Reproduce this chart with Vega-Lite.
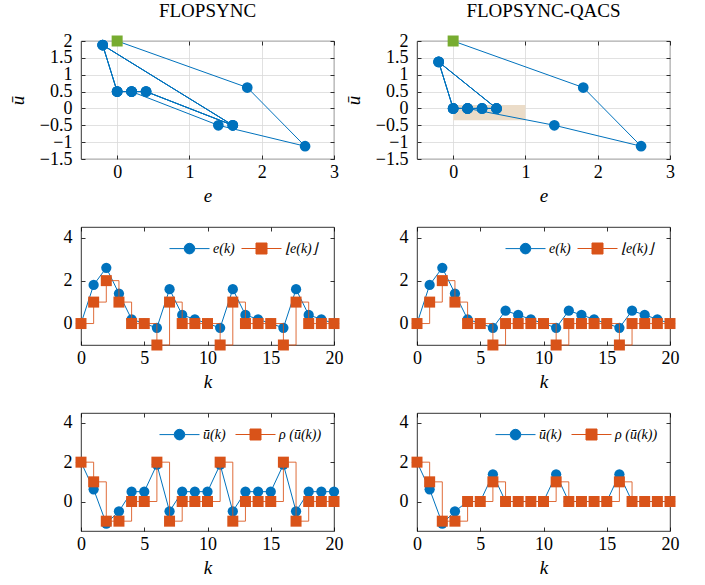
{
  "$schema": "https://vega.github.io/schema/vega-lite/v6.json",
  "autosize": {"type": "pad"},
  "padding": {"left": 7, "top": 1, "right": 5, "bottom": 5},
  "background": "white",
  "config": {
    "font": "Liberation Serif",
    "view": {"stroke": "#000", "strokeWidth": 0.8},
    "axis": {
      "labelFont": "Liberation Serif", "labelFontSize": 18, "labelColor": "#000", "labelOverlap": false, "labelFlush": false,
      "titleFont": "Liberation Serif", "titleFontSize": 19, "titleFontStyle": "italic", "titleFontWeight": "normal", "titleColor": "#000",
      "domain": false, "tickColor": "#000", "tickSize": -4, "tickWidth": 0.8,
      "grid": false, "gridColor": "#d9d9d9", "gridWidth": 0.8, "gridOpacity": 1
    },
    "axisX": {"labelPadding": 8, "titlePadding": 5},
    "axisY": {"labelPadding": 13, "titlePadding": 12},
    "title": {"font": "Liberation Serif", "fontSize": 19, "fontWeight": "normal", "color": "#000", "anchor": "middle", "offset": 11}
  },
  "datasets": {
    "d": [
      {"p": "A", "k": 0, "e": 0, "fe": 0, "u": 2, "ru": 2},
      {"p": "A", "k": 1, "e": 1.8, "fe": 1, "u": 0.62, "ru": 1},
      {"p": "A", "k": 2, "e": 2.6, "fe": 2, "u": -1.12, "ru": -1},
      {"p": "A", "k": 3, "e": 1.4, "fe": 1, "u": -0.5, "ru": -1},
      {"p": "A", "k": 4, "e": 0.2, "fe": 0, "u": 0.5, "ru": 0},
      {"p": "A", "k": 5, "e": 0, "fe": 0, "u": 0.5, "ru": 0},
      {"p": "A", "k": 6, "e": -0.2, "fe": -1, "u": 1.88, "ru": 2},
      {"p": "A", "k": 7, "e": 1.6, "fe": 1, "u": -0.5, "ru": -1},
      {"p": "A", "k": 8, "e": 0.4, "fe": 0, "u": 0.5, "ru": 0},
      {"p": "A", "k": 9, "e": 0.2, "fe": 0, "u": 0.5, "ru": 0},
      {"p": "A", "k": 10, "e": 0, "fe": 0, "u": 0.5, "ru": 0},
      {"p": "A", "k": 11, "e": -0.2, "fe": -1, "u": 1.88, "ru": 2},
      {"p": "A", "k": 12, "e": 1.6, "fe": 1, "u": -0.5, "ru": -1},
      {"p": "A", "k": 13, "e": 0.4, "fe": 0, "u": 0.5, "ru": 0},
      {"p": "A", "k": 14, "e": 0.2, "fe": 0, "u": 0.5, "ru": 0},
      {"p": "A", "k": 15, "e": 0, "fe": 0, "u": 0.5, "ru": 0},
      {"p": "A", "k": 16, "e": -0.2, "fe": -1, "u": 1.88, "ru": 2},
      {"p": "A", "k": 17, "e": 1.6, "fe": 1, "u": -0.5, "ru": -1},
      {"p": "A", "k": 18, "e": 0.4, "fe": 0, "u": 0.5, "ru": 0},
      {"p": "A", "k": 19, "e": 0.2, "fe": 0, "u": 0.5, "ru": 0},
      {"p": "A", "k": 20, "e": 0, "fe": 0, "u": 0.5, "ru": 0},
      {"p": "B", "k": 0, "e": 0, "fe": 0, "u": 2, "ru": 2},
      {"p": "B", "k": 1, "e": 1.8, "fe": 1, "u": 0.62, "ru": 1},
      {"p": "B", "k": 2, "e": 2.6, "fe": 2, "u": -1.12, "ru": -1},
      {"p": "B", "k": 3, "e": 1.4, "fe": 1, "u": -0.5, "ru": -1},
      {"p": "B", "k": 4, "e": 0.2, "fe": 0, "u": 0, "ru": 0},
      {"p": "B", "k": 5, "e": 0, "fe": 0, "u": 0, "ru": 0},
      {"p": "B", "k": 6, "e": -0.2, "fe": -1, "u": 1.38, "ru": 1},
      {"p": "B", "k": 7, "e": 0.6, "fe": 0, "u": 0, "ru": 0},
      {"p": "B", "k": 8, "e": 0.4, "fe": 0, "u": 0, "ru": 0},
      {"p": "B", "k": 9, "e": 0.2, "fe": 0, "u": 0, "ru": 0},
      {"p": "B", "k": 10, "e": 0, "fe": 0, "u": 0, "ru": 0},
      {"p": "B", "k": 11, "e": -0.2, "fe": -1, "u": 1.38, "ru": 1},
      {"p": "B", "k": 12, "e": 0.6, "fe": 0, "u": 0, "ru": 0},
      {"p": "B", "k": 13, "e": 0.4, "fe": 0, "u": 0, "ru": 0},
      {"p": "B", "k": 14, "e": 0.2, "fe": 0, "u": 0, "ru": 0},
      {"p": "B", "k": 15, "e": 0, "fe": 0, "u": 0, "ru": 0},
      {"p": "B", "k": 16, "e": -0.2, "fe": -1, "u": 1.38, "ru": 1},
      {"p": "B", "k": 17, "e": 0.6, "fe": 0, "u": 0, "ru": 0},
      {"p": "B", "k": 18, "e": 0.4, "fe": 0, "u": 0, "ru": 0},
      {"p": "B", "k": 19, "e": 0.2, "fe": 0, "u": 0, "ru": 0},
      {"p": "B", "k": 20, "e": 0, "fe": 0, "u": 0, "ru": 0}
    ],
    "r": [{"x0": 0, "x1": 1, "y0": -0.35, "y1": 0.1}]
  },
  "columns": 2,
  "bounds": "flush",
  "spacing": {"row": 68, "column": 83},
  "resolve": {"scale": {"color": "independent"}, "legend": {"color": "independent"}},
  "concat": [
    {
      "width": 253, "height": 118,
      "title": {"text": "FLOPSYNC"},
      "layer": [
        {
          "data": {"name": "d"}, "transform": [{"filter": "datum.p == 'A'"}],
          "mark": {"type": "line", "color": "#0072BD", "strokeWidth": 1, "clip": false},
          "encoding": {
            "x": {"field": "e", "type": "quantitative", "scale": {"domain": [-0.5, 3], "nice": false, "zero": false}, "axis": {"orient": "bottom", "values": [0, 1, 2, 3], "grid": true, "title": "e"}},
            "y": {"field": "u", "type": "quantitative", "scale": {"domain": [-1.5, 2], "nice": false, "zero": false}, "axis": {"orient": "left", "values": [-1.5, -1, -0.5, 0, 0.5, 1, 1.5, 2], "format": "~g", "grid": true, "title": "ū"}},
            "order": {"field": "k", "type": "quantitative"}
          }
        },
        {
          "data": {"name": "d"}, "transform": [{"filter": "datum.p == 'A' && datum.k > 0"}],
          "mark": {"type": "point", "shape": "circle", "filled": true, "size": 115, "opacity": 1, "color": "#0072BD", "clip": false},
          "encoding": {
            "x": {"field": "e", "type": "quantitative", "scale": {"domain": [-0.5, 3], "nice": false, "zero": false}, "axis": null},
            "y": {"field": "u", "type": "quantitative", "scale": {"domain": [-1.5, 2], "nice": false, "zero": false}, "axis": null}
          }
        },
        {
          "data": {"name": "d"}, "transform": [{"filter": "datum.p == 'A' && datum.k == 0"}],
          "mark": {"type": "point", "shape": "square", "filled": true, "size": 121, "opacity": 1, "color": "#77AC30", "clip": false},
          "encoding": {
            "x": {"field": "e", "type": "quantitative", "scale": {"domain": [-0.5, 3], "nice": false, "zero": false}, "axis": {"orient": "top", "values": [0, 1, 2, 3], "labels": false, "title": null}},
            "y": {"field": "u", "type": "quantitative", "scale": {"domain": [-1.5, 2], "nice": false, "zero": false}, "axis": {"orient": "right", "values": [-1.5, -1, -0.5, 0, 0.5, 1, 1.5, 2], "labels": false, "title": null}}
          }
        }
      ],
      "resolve": {"axis": {"x": "independent", "y": "independent"}}
    },
    {
      "width": 253, "height": 118,
      "title": {"text": "FLOPSYNC-QACS"},
      "layer": [
        {
          "data": {"name": "r"},
          "mark": {"type": "rect", "color": "#EBDCC8", "opacity": 1},
          "encoding": {
            "x": {"field": "x0", "type": "quantitative", "scale": {"domain": [-0.5, 3], "nice": false, "zero": false}, "axis": null},
            "x2": {"field": "x1"},
            "y": {"field": "y0", "type": "quantitative", "scale": {"domain": [-1.5, 2], "nice": false, "zero": false}, "axis": null},
            "y2": {"field": "y1"}
          }
        },
        {
          "data": {"name": "d"}, "transform": [{"filter": "datum.p == 'B'"}],
          "mark": {"type": "line", "color": "#0072BD", "strokeWidth": 1, "clip": false},
          "encoding": {
            "x": {"field": "e", "type": "quantitative", "scale": {"domain": [-0.5, 3], "nice": false, "zero": false}, "axis": {"orient": "bottom", "values": [0, 1, 2, 3], "grid": true, "title": "e"}},
            "y": {"field": "u", "type": "quantitative", "scale": {"domain": [-1.5, 2], "nice": false, "zero": false}, "axis": {"orient": "left", "values": [-1.5, -1, -0.5, 0, 0.5, 1, 1.5, 2], "format": "~g", "grid": true, "title": "ū"}},
            "order": {"field": "k", "type": "quantitative"}
          }
        },
        {
          "data": {"name": "d"}, "transform": [{"filter": "datum.p == 'B' && datum.k > 0"}],
          "mark": {"type": "point", "shape": "circle", "filled": true, "size": 115, "opacity": 1, "color": "#0072BD", "clip": false},
          "encoding": {
            "x": {"field": "e", "type": "quantitative", "scale": {"domain": [-0.5, 3], "nice": false, "zero": false}, "axis": null},
            "y": {"field": "u", "type": "quantitative", "scale": {"domain": [-1.5, 2], "nice": false, "zero": false}, "axis": null}
          }
        },
        {
          "data": {"name": "d"}, "transform": [{"filter": "datum.p == 'B' && datum.k == 0"}],
          "mark": {"type": "point", "shape": "square", "filled": true, "size": 121, "opacity": 1, "color": "#77AC30", "clip": false},
          "encoding": {
            "x": {"field": "e", "type": "quantitative", "scale": {"domain": [-0.5, 3], "nice": false, "zero": false}, "axis": {"orient": "top", "values": [0, 1, 2, 3], "labels": false, "title": null}},
            "y": {"field": "u", "type": "quantitative", "scale": {"domain": [-1.5, 2], "nice": false, "zero": false}, "axis": {"orient": "right", "values": [-1.5, -1, -0.5, 0, 0.5, 1, 1.5, 2], "labels": false, "title": null}}
          }
        }
      ],
      "resolve": {"axis": {"x": "independent", "y": "independent"}}
    },
    {
      "width": 253, "height": 118,
      "layer": [
        {
          "data": {"name": "d"}, "transform": [{"filter": "datum.p == 'A'"}, {"fold": ["e", "fe"], "as": ["s", "v"]}, {"filter": "datum.s == 'e'"}],
          "mark": {"type": "line", "strokeWidth": 1, "clip": false},
          "encoding": {
            "x": {"field": "k", "type": "quantitative", "scale": {"domain": [0, 20], "nice": false}, "axis": {"orient": "bottom", "values": [0, 5, 10, 15, 20], "title": "k"}},
            "y": {"field": "v", "type": "quantitative", "scale": {"domain": [-1, 4.5], "nice": false}, "axis": {"orient": "left", "values": [0, 2, 4], "title": null}},
            "color": {"field": "s", "type": "nominal", "scale": {"domain": ["e", "fe"], "range": ["#0072BD", "#D95319"]},
              "legend": {"orient": "none", "legendX": 98, "legendY": 11, "direction": "horizontal", "title": null, "padding": 0,
                "labelExpr": "datum.value == 'e' ? 'e(k)' : '⌊e(k)⌋'", "labelFont": "Liberation Serif", "labelFontSize": 14, "labelFontStyle": "italic", "labelColor": "#000",
                "symbolSize": 400, "labelOffset": 13, "columnPadding": 4, "symbolStrokeWidth": 1,
                "encode": {"symbols": {"update": {
                  "shape": {"signal": "datum.value == 'e' ? 'M-2,0L-0.53,0M0.53,0L2,0M0.53,0A0.53,0.53,0,1,1,-0.53,0A0.53,0.53,0,1,1,0.53,0Z' : 'M-2,0L-0.55,0M0.55,0L2,0M-0.55,-0.55L0.55,-0.55L0.55,0.55L-0.55,0.55Z'"},
                  "fill": {"signal": "datum.value == 'e' ? '#0072BD' : '#D95319'"},
                  "stroke": {"signal": "datum.value == 'e' ? '#0072BD' : '#D95319'"},
                  "opacity": {"value": 1}, "fillOpacity": {"value": 1}, "strokeOpacity": {"value": 1}
                }}}}
            }
          }
        },
        {
          "data": {"name": "d"}, "transform": [{"filter": "datum.p == 'A'"}, {"fold": ["e", "fe"], "as": ["s", "v"]}, {"filter": "datum.s == 'e'"}],
          "mark": {"type": "point", "shape": "circle", "filled": true, "size": 105, "opacity": 1, "clip": false},
          "encoding": {
            "x": {"field": "k", "type": "quantitative", "scale": {"domain": [0, 20], "nice": false}, "axis": null},
            "y": {"field": "v", "type": "quantitative", "scale": {"domain": [-1, 4.5], "nice": false}, "axis": null},
            "color": {"field": "s", "type": "nominal", "scale": {"domain": ["e", "fe"], "range": ["#0072BD", "#D95319"]}}
          }
        },
        {
          "data": {"name": "d"}, "transform": [{"filter": "datum.p == 'A'"}, {"fold": ["e", "fe"], "as": ["s", "v"]}, {"filter": "datum.s == 'fe'"}],
          "mark": {"type": "line", "interpolate": "step-after", "strokeWidth": 1, "opacity": 0.85, "clip": false},
          "encoding": {
            "x": {"field": "k", "type": "quantitative", "scale": {"domain": [0, 20], "nice": false}, "axis": null},
            "y": {"field": "v", "type": "quantitative", "scale": {"domain": [-1, 4.5], "nice": false}, "axis": null},
            "color": {"field": "s", "type": "nominal", "scale": {"domain": ["e", "fe"], "range": ["#0072BD", "#D95319"]}}
          }
        },
        {
          "data": {"name": "d"}, "transform": [{"filter": "datum.p == 'A'"}, {"fold": ["e", "fe"], "as": ["s", "v"]}, {"filter": "datum.s == 'fe'"}],
          "mark": {"type": "point", "shape": "square", "filled": true, "size": 121, "opacity": 1, "clip": false},
          "encoding": {
            "x": {"field": "k", "type": "quantitative", "scale": {"domain": [0, 20], "nice": false}, "axis": {"orient": "top", "values": [0, 5, 10, 15, 20], "labels": false, "title": null}},
            "y": {"field": "v", "type": "quantitative", "scale": {"domain": [-1, 4.5], "nice": false}, "axis": {"orient": "right", "values": [0, 2, 4], "labels": false, "title": null}},
            "color": {"field": "s", "type": "nominal", "scale": {"domain": ["e", "fe"], "range": ["#0072BD", "#D95319"]}}
          }
        }
      ],
      "resolve": {"axis": {"x": "independent", "y": "independent"}}
    },
    {
      "width": 253, "height": 118,
      "layer": [
        {
          "data": {"name": "d"}, "transform": [{"filter": "datum.p == 'B'"}, {"fold": ["e", "fe"], "as": ["s", "v"]}, {"filter": "datum.s == 'e'"}],
          "mark": {"type": "line", "strokeWidth": 1, "clip": false},
          "encoding": {
            "x": {"field": "k", "type": "quantitative", "scale": {"domain": [0, 20], "nice": false}, "axis": {"orient": "bottom", "values": [0, 5, 10, 15, 20], "title": "k"}},
            "y": {"field": "v", "type": "quantitative", "scale": {"domain": [-1, 4.5], "nice": false}, "axis": {"orient": "left", "values": [0, 2, 4], "title": null}},
            "color": {"field": "s", "type": "nominal", "scale": {"domain": ["e", "fe"], "range": ["#0072BD", "#D95319"]},
              "legend": {"orient": "none", "legendX": 98, "legendY": 11, "direction": "horizontal", "title": null, "padding": 0,
                "labelExpr": "datum.value == 'e' ? 'e(k)' : '⌊e(k)⌋'", "labelFont": "Liberation Serif", "labelFontSize": 14, "labelFontStyle": "italic", "labelColor": "#000",
                "symbolSize": 400, "labelOffset": 13, "columnPadding": 4, "symbolStrokeWidth": 1,
                "encode": {"symbols": {"update": {
                  "shape": {"signal": "datum.value == 'e' ? 'M-2,0L-0.53,0M0.53,0L2,0M0.53,0A0.53,0.53,0,1,1,-0.53,0A0.53,0.53,0,1,1,0.53,0Z' : 'M-2,0L-0.55,0M0.55,0L2,0M-0.55,-0.55L0.55,-0.55L0.55,0.55L-0.55,0.55Z'"},
                  "fill": {"signal": "datum.value == 'e' ? '#0072BD' : '#D95319'"},
                  "stroke": {"signal": "datum.value == 'e' ? '#0072BD' : '#D95319'"},
                  "opacity": {"value": 1}, "fillOpacity": {"value": 1}, "strokeOpacity": {"value": 1}
                }}}}
            }
          }
        },
        {
          "data": {"name": "d"}, "transform": [{"filter": "datum.p == 'B'"}, {"fold": ["e", "fe"], "as": ["s", "v"]}, {"filter": "datum.s == 'e'"}],
          "mark": {"type": "point", "shape": "circle", "filled": true, "size": 105, "opacity": 1, "clip": false},
          "encoding": {
            "x": {"field": "k", "type": "quantitative", "scale": {"domain": [0, 20], "nice": false}, "axis": null},
            "y": {"field": "v", "type": "quantitative", "scale": {"domain": [-1, 4.5], "nice": false}, "axis": null},
            "color": {"field": "s", "type": "nominal", "scale": {"domain": ["e", "fe"], "range": ["#0072BD", "#D95319"]}}
          }
        },
        {
          "data": {"name": "d"}, "transform": [{"filter": "datum.p == 'B'"}, {"fold": ["e", "fe"], "as": ["s", "v"]}, {"filter": "datum.s == 'fe'"}],
          "mark": {"type": "line", "interpolate": "step-after", "strokeWidth": 1, "opacity": 0.85, "clip": false},
          "encoding": {
            "x": {"field": "k", "type": "quantitative", "scale": {"domain": [0, 20], "nice": false}, "axis": null},
            "y": {"field": "v", "type": "quantitative", "scale": {"domain": [-1, 4.5], "nice": false}, "axis": null},
            "color": {"field": "s", "type": "nominal", "scale": {"domain": ["e", "fe"], "range": ["#0072BD", "#D95319"]}}
          }
        },
        {
          "data": {"name": "d"}, "transform": [{"filter": "datum.p == 'B'"}, {"fold": ["e", "fe"], "as": ["s", "v"]}, {"filter": "datum.s == 'fe'"}],
          "mark": {"type": "point", "shape": "square", "filled": true, "size": 121, "opacity": 1, "clip": false},
          "encoding": {
            "x": {"field": "k", "type": "quantitative", "scale": {"domain": [0, 20], "nice": false}, "axis": {"orient": "top", "values": [0, 5, 10, 15, 20], "labels": false, "title": null}},
            "y": {"field": "v", "type": "quantitative", "scale": {"domain": [-1, 4.5], "nice": false}, "axis": {"orient": "right", "values": [0, 2, 4], "labels": false, "title": null}},
            "color": {"field": "s", "type": "nominal", "scale": {"domain": ["e", "fe"], "range": ["#0072BD", "#D95319"]}}
          }
        }
      ],
      "resolve": {"axis": {"x": "independent", "y": "independent"}}
    },
    {
      "width": 253, "height": 118,
      "layer": [
        {
          "data": {"name": "d"}, "transform": [{"filter": "datum.p == 'A'"}, {"fold": ["u", "ru"], "as": ["s", "v"]}, {"filter": "datum.s == 'u'"}],
          "mark": {"type": "line", "strokeWidth": 1, "clip": false},
          "encoding": {
            "x": {"field": "k", "type": "quantitative", "scale": {"domain": [0, 20], "nice": false}, "axis": {"orient": "bottom", "values": [0, 5, 10, 15, 20], "title": "k"}},
            "y": {"field": "v", "type": "quantitative", "scale": {"domain": [-1.5, 4.5], "nice": false}, "axis": {"orient": "left", "values": [0, 2, 4], "title": null}},
            "color": {"field": "s", "type": "nominal", "scale": {"domain": ["u", "ru"], "range": ["#0072BD", "#D95319"]},
              "legend": {"orient": "none", "legendX": 88, "legendY": 11, "direction": "horizontal", "title": null, "padding": 0,
                "labelExpr": "datum.value == 'u' ? 'ū(k)' : 'ρ (ū(k))'", "labelFont": "Liberation Serif", "labelFontSize": 14, "labelFontStyle": "italic", "labelColor": "#000",
                "symbolSize": 400, "labelOffset": 13, "columnPadding": 7, "symbolStrokeWidth": 1,
                "encode": {"symbols": {"update": {
                  "shape": {"signal": "datum.value == 'u' ? 'M-2,0L-0.53,0M0.53,0L2,0M0.53,0A0.53,0.53,0,1,1,-0.53,0A0.53,0.53,0,1,1,0.53,0Z' : 'M-2,0L-0.55,0M0.55,0L2,0M-0.55,-0.55L0.55,-0.55L0.55,0.55L-0.55,0.55Z'"},
                  "fill": {"signal": "datum.value == 'u' ? '#0072BD' : '#D95319'"},
                  "stroke": {"signal": "datum.value == 'u' ? '#0072BD' : '#D95319'"},
                  "opacity": {"value": 1}, "fillOpacity": {"value": 1}, "strokeOpacity": {"value": 1}
                }}}}
            }
          }
        },
        {
          "data": {"name": "d"}, "transform": [{"filter": "datum.p == 'A'"}, {"fold": ["u", "ru"], "as": ["s", "v"]}, {"filter": "datum.s == 'u'"}],
          "mark": {"type": "point", "shape": "circle", "filled": true, "size": 105, "opacity": 1, "clip": false},
          "encoding": {
            "x": {"field": "k", "type": "quantitative", "scale": {"domain": [0, 20], "nice": false}, "axis": null},
            "y": {"field": "v", "type": "quantitative", "scale": {"domain": [-1.5, 4.5], "nice": false}, "axis": null},
            "color": {"field": "s", "type": "nominal", "scale": {"domain": ["u", "ru"], "range": ["#0072BD", "#D95319"]}}
          }
        },
        {
          "data": {"name": "d"}, "transform": [{"filter": "datum.p == 'A'"}, {"fold": ["u", "ru"], "as": ["s", "v"]}, {"filter": "datum.s == 'ru'"}],
          "mark": {"type": "line", "interpolate": "step-after", "strokeWidth": 1, "opacity": 0.85, "clip": false},
          "encoding": {
            "x": {"field": "k", "type": "quantitative", "scale": {"domain": [0, 20], "nice": false}, "axis": null},
            "y": {"field": "v", "type": "quantitative", "scale": {"domain": [-1.5, 4.5], "nice": false}, "axis": null},
            "color": {"field": "s", "type": "nominal", "scale": {"domain": ["u", "ru"], "range": ["#0072BD", "#D95319"]}}
          }
        },
        {
          "data": {"name": "d"}, "transform": [{"filter": "datum.p == 'A'"}, {"fold": ["u", "ru"], "as": ["s", "v"]}, {"filter": "datum.s == 'ru'"}],
          "mark": {"type": "point", "shape": "square", "filled": true, "size": 121, "opacity": 1, "clip": false},
          "encoding": {
            "x": {"field": "k", "type": "quantitative", "scale": {"domain": [0, 20], "nice": false}, "axis": {"orient": "top", "values": [0, 5, 10, 15, 20], "labels": false, "title": null}},
            "y": {"field": "v", "type": "quantitative", "scale": {"domain": [-1.5, 4.5], "nice": false}, "axis": {"orient": "right", "values": [0, 2, 4], "labels": false, "title": null}},
            "color": {"field": "s", "type": "nominal", "scale": {"domain": ["u", "ru"], "range": ["#0072BD", "#D95319"]}}
          }
        }
      ],
      "resolve": {"axis": {"x": "independent", "y": "independent"}}
    },
    {
      "width": 253, "height": 118,
      "layer": [
        {
          "data": {"name": "d"}, "transform": [{"filter": "datum.p == 'B'"}, {"fold": ["u", "ru"], "as": ["s", "v"]}, {"filter": "datum.s == 'u'"}],
          "mark": {"type": "line", "strokeWidth": 1, "clip": false},
          "encoding": {
            "x": {"field": "k", "type": "quantitative", "scale": {"domain": [0, 20], "nice": false}, "axis": {"orient": "bottom", "values": [0, 5, 10, 15, 20], "title": "k"}},
            "y": {"field": "v", "type": "quantitative", "scale": {"domain": [-1.5, 4.5], "nice": false}, "axis": {"orient": "left", "values": [0, 2, 4], "title": null}},
            "color": {"field": "s", "type": "nominal", "scale": {"domain": ["u", "ru"], "range": ["#0072BD", "#D95319"]},
              "legend": {"orient": "none", "legendX": 88, "legendY": 11, "direction": "horizontal", "title": null, "padding": 0,
                "labelExpr": "datum.value == 'u' ? 'ū(k)' : 'ρ (ū(k))'", "labelFont": "Liberation Serif", "labelFontSize": 14, "labelFontStyle": "italic", "labelColor": "#000",
                "symbolSize": 400, "labelOffset": 13, "columnPadding": 7, "symbolStrokeWidth": 1,
                "encode": {"symbols": {"update": {
                  "shape": {"signal": "datum.value == 'u' ? 'M-2,0L-0.53,0M0.53,0L2,0M0.53,0A0.53,0.53,0,1,1,-0.53,0A0.53,0.53,0,1,1,0.53,0Z' : 'M-2,0L-0.55,0M0.55,0L2,0M-0.55,-0.55L0.55,-0.55L0.55,0.55L-0.55,0.55Z'"},
                  "fill": {"signal": "datum.value == 'u' ? '#0072BD' : '#D95319'"},
                  "stroke": {"signal": "datum.value == 'u' ? '#0072BD' : '#D95319'"},
                  "opacity": {"value": 1}, "fillOpacity": {"value": 1}, "strokeOpacity": {"value": 1}
                }}}}
            }
          }
        },
        {
          "data": {"name": "d"}, "transform": [{"filter": "datum.p == 'B'"}, {"fold": ["u", "ru"], "as": ["s", "v"]}, {"filter": "datum.s == 'u'"}],
          "mark": {"type": "point", "shape": "circle", "filled": true, "size": 105, "opacity": 1, "clip": false},
          "encoding": {
            "x": {"field": "k", "type": "quantitative", "scale": {"domain": [0, 20], "nice": false}, "axis": null},
            "y": {"field": "v", "type": "quantitative", "scale": {"domain": [-1.5, 4.5], "nice": false}, "axis": null},
            "color": {"field": "s", "type": "nominal", "scale": {"domain": ["u", "ru"], "range": ["#0072BD", "#D95319"]}}
          }
        },
        {
          "data": {"name": "d"}, "transform": [{"filter": "datum.p == 'B'"}, {"fold": ["u", "ru"], "as": ["s", "v"]}, {"filter": "datum.s == 'ru'"}],
          "mark": {"type": "line", "interpolate": "step-after", "strokeWidth": 1, "opacity": 0.85, "clip": false},
          "encoding": {
            "x": {"field": "k", "type": "quantitative", "scale": {"domain": [0, 20], "nice": false}, "axis": null},
            "y": {"field": "v", "type": "quantitative", "scale": {"domain": [-1.5, 4.5], "nice": false}, "axis": null},
            "color": {"field": "s", "type": "nominal", "scale": {"domain": ["u", "ru"], "range": ["#0072BD", "#D95319"]}}
          }
        },
        {
          "data": {"name": "d"}, "transform": [{"filter": "datum.p == 'B'"}, {"fold": ["u", "ru"], "as": ["s", "v"]}, {"filter": "datum.s == 'ru'"}],
          "mark": {"type": "point", "shape": "square", "filled": true, "size": 121, "opacity": 1, "clip": false},
          "encoding": {
            "x": {"field": "k", "type": "quantitative", "scale": {"domain": [0, 20], "nice": false}, "axis": {"orient": "top", "values": [0, 5, 10, 15, 20], "labels": false, "title": null}},
            "y": {"field": "v", "type": "quantitative", "scale": {"domain": [-1.5, 4.5], "nice": false}, "axis": {"orient": "right", "values": [0, 2, 4], "labels": false, "title": null}},
            "color": {"field": "s", "type": "nominal", "scale": {"domain": ["u", "ru"], "range": ["#0072BD", "#D95319"]}}
          }
        }
      ],
      "resolve": {"axis": {"x": "independent", "y": "independent"}}
    }
  ]
}
